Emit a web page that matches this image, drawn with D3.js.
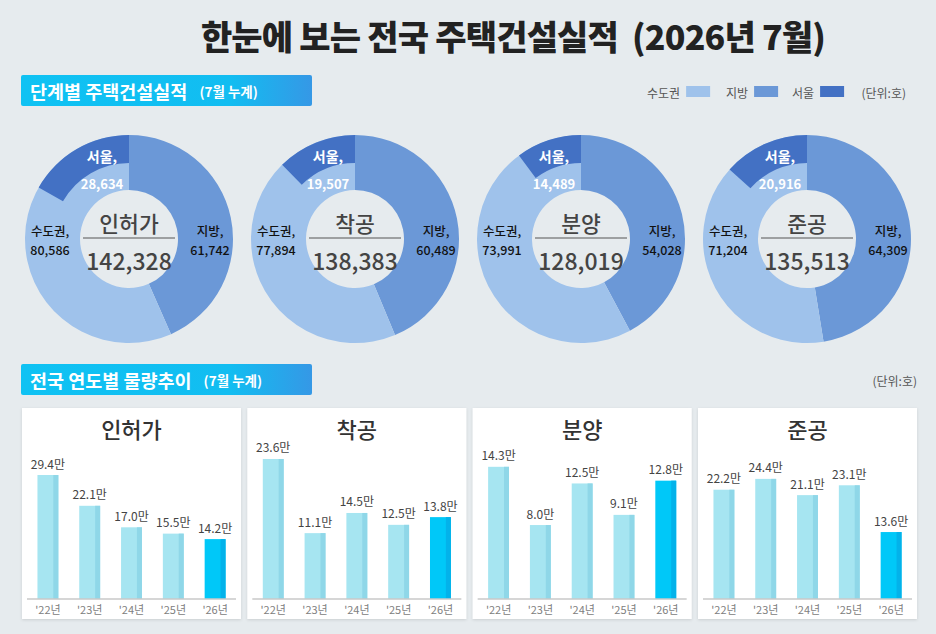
<!DOCTYPE html>
<html>
<head>
<meta charset="utf-8">
<script src="https://cdn.jsdelivr.net/npm/d3@7"></script>
<style>
  html, body { margin: 0; padding: 0; background: #e6ebee; }
  svg { display: block; font-family: "Noto Sans CJK KR", "Noto Sans", sans-serif; }
</style>
</head>
<body>
<svg id="chart" width="936" height="634"></svg>
<script>
// donut data (단위: 호)
const stages = ['인허가', '착공', '분양', '준공'];
const totals = [142328, 138383, 128019, 135513];
const metro = [80586, 77894, 73991, 71204];     // 수도권
const local = [61742, 60489, 54028, 64309];     // 지방
const seoul = [28634, 19507, 14489, 20916];     // 서울

// yearly trend (단위: 만호)
const years = ["'22년", "'23년", "'24년", "'25년", "'26년"];
const permit = [29.4, 22.1, 17.0, 15.5, 14.2];
const start = [23.6, 11.1, 14.5, 12.5, 13.8];
const sale = [14.3, 8.0, 12.5, 9.1, 12.8];
const complete = [22.2, 24.4, 21.1, 23.1, 13.6];
const axisMax = [37.7, 26.8, 17.2, 32.3];

const colors = { metro: '#9fc2eb', local: '#6b98d7', seoul: '#4371c4' };
const fmt = d3.format(',');

const svg = d3.select('#chart');
const defs = svg.append('defs');

const grad = defs.append('linearGradient').attr('id', 'hdr');
grad.append('stop').attr('offset', '0%').attr('stop-color', '#0fc2f3');
grad.append('stop').attr('offset', '72%').attr('stop-color', '#12bdf1');
grad.append('stop').attr('offset', '100%').attr('stop-color', '#3598e6');

const shadow = defs.append('filter').attr('id', 'shadow')
    .attr('x', '-5%').attr('y', '-5%').attr('width', '110%').attr('height', '110%');
shadow.append('feDropShadow').attr('dx', 0).attr('dy', 1).attr('stdDeviation', 1.5)
    .attr('flood-color', '#000').attr('flood-opacity', 0.12);

// title
svg.append('text')
    .attr('x', 513).attr('y', 35)
    .attr('text-anchor', 'middle').attr('dominant-baseline', 'central')
    .attr('font-size', 34).attr('font-weight', 900).attr('fill', '#222')
    .attr('letter-spacing', -0.8)
    .style('white-space', 'pre')
    .text('한눈에 보는 전국 주택건설실적  (2026년 7월)');

function header(y, main, sub) {
    svg.append('rect').attr('x', 21).attr('y', y).attr('width', 291).attr('height', 31)
        .attr('rx', 2).attr('fill', 'url(#hdr)');
    const t = svg.append('text').attr('x', 30).attr('y', y + 16)
        .attr('dominant-baseline', 'central').attr('fill', '#fff').attr('font-weight', 700);
    t.append('tspan').attr('font-size', 18.5).text(main);
    t.append('tspan').attr('font-size', 13.5).attr('dx', 12).text(sub);
}
header(75, '단계별 주택건설실적', '(7월 누계)');
header(364, '전국 연도별 물량추이', '(7월 누계)');

// legend
const legend = [['수도권', colors.metro, 647], ['지방', colors.local, 726], ['서울', colors.seoul, 792]];
legend.forEach(([name, c, x]) => {
    const t = svg.append('text').attr('x', x).attr('y', 92)
        .attr('dominant-baseline', 'central').attr('font-size', 12).attr('fill', '#555').text(name);
    const w = t.node().getComputedTextLength();
    svg.append('rect').attr('x', x + w + 6).attr('y', 86).attr('width', 24).attr('height', 11).attr('fill', c);
});
svg.append('text').attr('x', 906).attr('y', 92).attr('text-anchor', 'end')
    .attr('dominant-baseline', 'central').attr('font-size', 12).attr('fill', '#555').text('(단위:호)');
svg.append('text').attr('x', 917).attr('y', 380).attr('text-anchor', 'end')
    .attr('dominant-baseline', 'central').attr('font-size', 12).attr('fill', '#555').text('(단위:호)');

// donuts
const outerR = 104, innerR = 49, seoulInner = 76;
const donutX = d3.scalePoint().domain(stages).range([129, 807]);
const pie = d3.pie().sort(null).value(d => d.value);
const arc = d3.arc().innerRadius(innerR).outerRadius(outerR);

stages.forEach((stage, i) => {
    const g = svg.append('g').attr('transform', `translate(${donutX(stage)},239)`);
    const parts = [
        { key: 'local', value: local[i] },
        { key: 'metro', value: metro[i] }
    ];
    g.selectAll('path.slice').data(pie(parts)).join('path')
        .attr('class', 'slice')
        .attr('d', arc)
        .attr('fill', d => colors[d.data.key]);

    // the Seoul ring is a separate series whose ring total also counts Seoul itself
    const seoulAngle = seoul[i] / (totals[i] + seoul[i]) * 2 * Math.PI;
    g.append('path')
        .attr('d', d3.arc()({ innerRadius: seoulInner, outerRadius: outerR, startAngle: -seoulAngle, endAngle: 0 }))
        .attr('fill', colors.seoul);

    g.append('text').attr('x', -27).attr('y', -83).attr('text-anchor', 'middle')
        .attr('dominant-baseline', 'central').attr('font-size', 14).attr('font-weight', 700)
        .attr('fill', '#fff').text('서울,');
    g.append('text').attr('x', -27).attr('y', -56).attr('text-anchor', 'middle')
        .attr('dominant-baseline', 'central').attr('font-size', 13).attr('font-weight', 700)
        .attr('fill', '#fff').text(fmt(seoul[i]));

    [['수도권,', fmt(metro[i]), -79], ['지방,', fmt(local[i]), 81]].forEach(([a, b, x]) => {
        g.append('text').attr('x', x).attr('y', -9).attr('text-anchor', 'middle')
            .attr('dominant-baseline', 'central').attr('font-size', 12.5).attr('font-weight', 500)
            .attr('fill', '#111').text(a);
        g.append('text').attr('x', x).attr('y', 10).attr('text-anchor', 'middle')
            .attr('dominant-baseline', 'central').attr('font-size', 12.5).attr('font-weight', 500)
            .attr('fill', '#111').text(b);
    });

    g.append('text').attr('y', -17).attr('text-anchor', 'middle').attr('dominant-baseline', 'central')
        .attr('font-size', 21.5).attr('font-weight', 500).attr('fill', '#444').text(stage);
    g.append('line').attr('x1', -46).attr('x2', 46).attr('y1', -1).attr('y2', -1)
        .attr('stroke', '#555').attr('stroke-width', 1);
    g.append('text').attr('y', 21).attr('text-anchor', 'middle').attr('dominant-baseline', 'central')
        .attr('font-size', 23).attr('font-weight', 500).attr('fill', '#444').text(fmt(totals[i]));
});

// yearly bar panels
const series = [permit, start, sale, complete];
const panelX = d3.scalePoint().domain(stages).range([22, 698]);
const panelW = 219, panelTop = 408, panelH = 211;
const baseY = 599, plotH = 159;

stages.forEach((stage, i) => {
    const px = panelX(stage);
    svg.append('rect').attr('x', px).attr('y', panelTop).attr('width', panelW).attr('height', panelH)
        .attr('fill', '#fff').attr('filter', 'url(#shadow)');

    svg.append('text').attr('x', px + panelW / 2).attr('y', 428)
        .attr('text-anchor', 'middle').attr('dominant-baseline', 'central')
        .attr('font-size', 22).attr('font-weight', 500).attr('fill', '#333').text(stage);

    const x = d3.scaleBand().domain(years).range([px + 5, px + 214]).paddingInner(0.5).paddingOuter(0.25);
    const y = d3.scaleLinear().domain([0, axisMax[i]]).range([baseY, baseY - plotH]);
    const data = series[i].map((v, j) => ({ year: years[j], value: v, last: j === years.length - 1 }));
    const stripW = x.bandwidth() * 0.24;

    const g = svg.append('g');
    g.selectAll('rect.bar').data(data).join('rect')
        .attr('class', 'bar')
        .attr('x', d => x(d.year)).attr('y', d => y(d.value))
        .attr('width', x.bandwidth()).attr('height', d => baseY - y(d.value))
        .attr('fill', d => d.last ? '#00c8f8' : '#a6e5f1');
    g.selectAll('rect.strip').data(data).join('rect')
        .attr('class', 'strip')
        .attr('x', d => x(d.year) + x.bandwidth() - stripW).attr('y', d => y(d.value))
        .attr('width', stripW).attr('height', d => baseY - y(d.value))
        .attr('fill', d => d.last ? '#03b2ea' : '#8fd7e8');
    g.selectAll('text.val').data(data).join('text')
        .attr('class', 'val')
        .attr('x', d => x(d.year) + x.bandwidth() / 2).attr('y', d => y(d.value) - 12)
        .attr('text-anchor', 'middle').attr('dominant-baseline', 'central')
        .attr('font-size', 12).attr('fill', '#444')
        .text(d => d.value.toFixed(1) + '만');

    const axis = svg.append('g').attr('transform', `translate(0,${baseY})`)
        .call(d3.axisBottom(x).tickSize(0).tickSizeOuter(0).tickPadding(7));
    axis.select('.domain').attr('stroke', '#c8c8c8').attr('stroke-width', 1.5)
        .attr('d', `M${px + 5},0H${px + 214}`);
    axis.selectAll('text').attr('font-size', 11).attr('fill', '#808080')
        .attr('font-family', '"Noto Sans CJK KR", sans-serif');
});
</script>
</body>
</html>
